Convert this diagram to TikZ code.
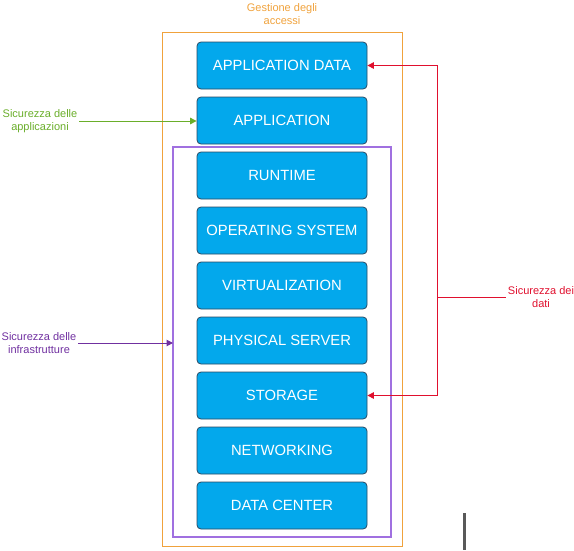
\documentclass[tikz,border=0pt]{standalone}
\usepackage{fontspec}
\setmainfont{Liberation Sans}
\usetikzlibrary{arrows.meta}
\definecolor{boxfill}{HTML}{03A8EC}
\definecolor{boxline}{HTML}{2B4A63}
\definecolor{orangec}{HTML}{F0A23C}
\definecolor{purplec}{HTML}{A070E0}
\definecolor{purpletext}{HTML}{7030A0}
\definecolor{greenc}{HTML}{6AAE2A}
\definecolor{redc}{HTML}{E0102E}
\begin{document}
\begin{tikzpicture}[x=1pt,y=-1pt,
  layerbox/.style={draw=boxline, line width=0.8pt, fill=boxfill, rounded corners=4pt,
    minimum width=170pt, minimum height=47pt, inner sep=0pt, text=white,
    font=\fontsize{14.8}{17}\selectfont},
  sidelabel/.style={align=center, font=\fontsize{11}{13}\selectfont, inner sep=0pt},
  tip/.style={-{Triangle[length=6.5pt,width=6.5pt]}}]
\useasboundingbox (0,0) rectangle (574,550);
% outer frames
\draw[orangec, line width=1pt] (162,32) rectangle (402,546);
\draw[purplec, line width=1.1pt] (173,147) rectangle (391,537);
% layer boxes
\foreach \n/\t [count=\i from 0] in {appdata/APPLICATION DATA, app/APPLICATION, runtime/RUNTIME, os/OPERATING SYSTEM, virt/VIRTUALIZATION, phys/PHYSICAL SERVER, storage/STORAGE, net/NETWORKING, dc/DATA CENTER}{
  \node[layerbox] (\n) at (282,{65.5+55*\i}) {\t};
}
% labels
\node[sidelabel, text=orangec] (ga) at (282,14) {Gestione degli\\accessi};
\node[sidelabel, text=greenc] (sa) at (40,121) {Sicurezza delle\\applicazioni};
\node[sidelabel, text=purpletext] (si) at (39,343) {Sicurezza delle\\infrastrutture};
\node[sidelabel, text=redc] (sd) at (541,297) {Sicurezza dei\\dati};
% purple frame anchor
\coordinate (pf) at (173,343);
\coordinate (rj) at (437,297);
% connectors
\draw[greenc, line width=1pt, tip] (sa.east |- 0,121) ++(2,0) -- (app.west |- 0,121);
\draw[purpletext, line width=1pt, tip] (si.east |- 0,343) ++(2,0) -- (pf);
\draw[redc, line width=1pt] (sd.west |- rj) ++(-2,0) -- (rj);
\draw[redc, line width=1pt, tip] (rj) -- (rj |- appdata.east) -- (appdata.east);
\draw[redc, line width=1pt, tip] (rj) -- (rj |- storage.east) -- (storage.east);
% stray bar
\fill[black!65] (463,513) rectangle (466,550);
\end{tikzpicture}
\end{document}
